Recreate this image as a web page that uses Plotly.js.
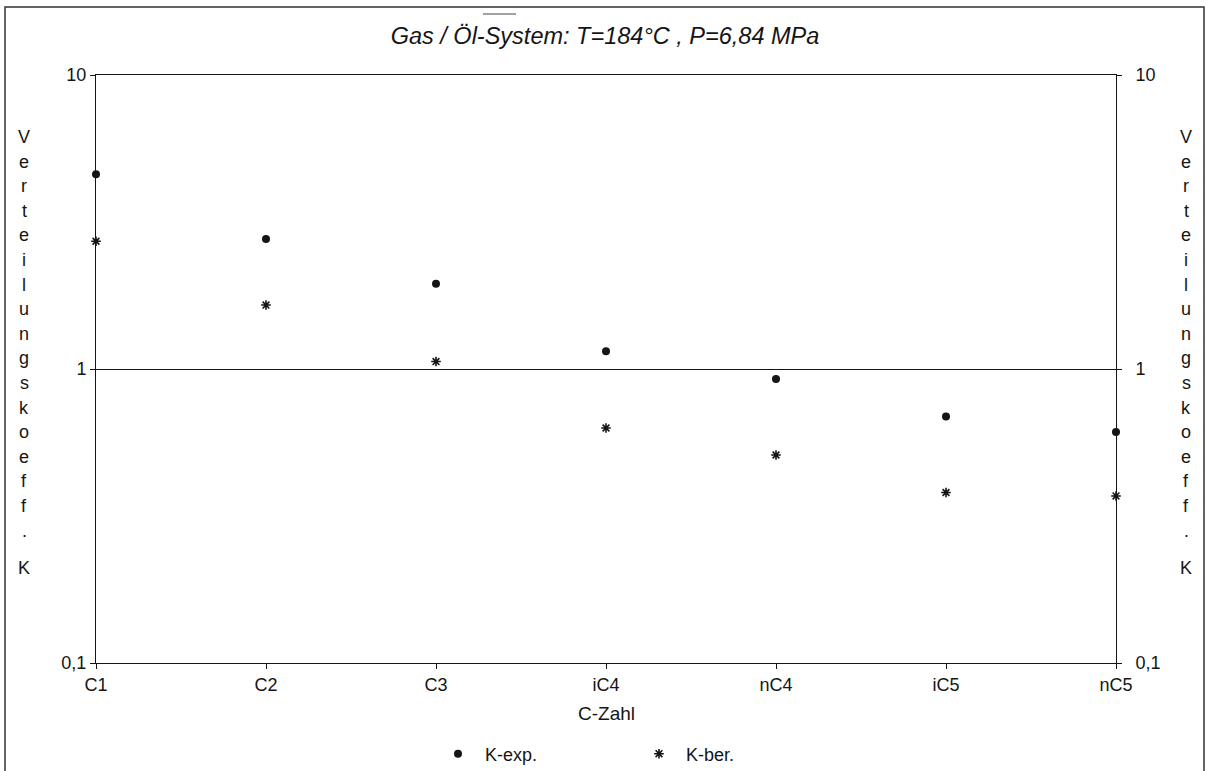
<!DOCTYPE html>
<html>
<head>
<meta charset="utf-8">
<script src="https://cdn.plot.ly/plotly-3.0.1.min.js"></script>
<style>html,body{margin:0;padding:0;background:#fff;}#chart{width:1206px;height:771px;}</style>
</head>
<body>
<div id="chart"></div>
<script>
var categories = ["C1", "C2", "C3", "iC4", "nC4", "iC5", "nC5"];
var kExp = [4.6, 2.77, 1.95, 1.15, 0.925, 0.69, 0.61];
var kBer = [2.72, 1.65, 1.06, 0.63, 0.51, 0.38, 0.37];
var yTickVals = [0.1, 1, 10];
var yTickText = ["0,1", "1", "10"];
var titleText = "Gas / Öl-System: T=184°C , P=6,84 MPa";
var xTitle = "C-Zahl";
var yTitle = "Verteilungskoeff. K";

var W = 1206, H = 771;
var L = 96, R = 90, T = 75, B = 108;
var pw = W - L - R, ph = H - T - B;
function px(x) { return (x - L) / pw; }
function py(y) { return (H - B - y) / ph; }

var font = "Liberation Sans, Arial, sans-serif";
var ink = "#151515";

var traces = [
  {x: categories, y: kExp, name: "K-exp.", type: "scatter", mode: "markers", cliponaxis: false,
   marker: {symbol: "circle", size: 8, color: ink}},
  {x: categories, y: kBer, name: "K-ber.", type: "scatter", mode: "markers", cliponaxis: false,
   marker: {symbol: "asterisk-open", size: 8, color: ink, line: {color: ink, width: 1.6}}},
  {x: categories, y: kExp, yaxis: "y2", type: "scatter", mode: "markers", showlegend: false,
   hoverinfo: "skip", marker: {opacity: 0}}
];

var annotations = [];
var chars = yTitle.split("");
chars.forEach(function (c, i) {
  if (c === " ") return;
  var yy = (c === "K") ? 568 : 137 + i * 24.6;
  [24, 1186].forEach(function (xx) {
    annotations.push({text: c, xref: "paper", yref: "paper", x: px(xx), y: py(yy),
      xanchor: "center", yanchor: "middle", showarrow: false,
      font: {family: font, size: 18, color: ink}});
  });
});
annotations.push({text: xTitle, xref: "paper", yref: "paper", x: px(606), y: py(713),
  xanchor: "center", yanchor: "middle", showarrow: false,
  font: {family: font, size: 19, color: ink}});

var layout = {
  width: W, height: H,
  margin: {l: L, r: R, t: T, b: B, autoexpand: false},
  paper_bgcolor: "#fff", plot_bgcolor: "#fff",
  separators: ",.",
  title: {text: titleText, x: px(605), xanchor: "center", xref: "paper", y: 1 - 36 / H, yanchor: "middle",
    automargin: false, font: {family: font, size: 23.5, color: ink, style: "italic"}},
  showlegend: true,
  legend: {orientation: "h", x: px(431), xanchor: "left", y: py(754), yanchor: "middle",
    font: {family: font, size: 18, color: ink}, itemwidth: 44, entrywidth: 142, entrywidthmode: "pixels",
    bgcolor: "rgba(0,0,0,0)"},
  xaxis: {type: "category", range: [0, 6], showline: true, linecolor: ink, linewidth: 1, mirror: true,
    automargin: false, ticks: "outside", ticklen: 5, tickcolor: ink, showgrid: false, zeroline: false,
    ticklabelstandoff: 0, tickfont: {family: font, size: 18, color: ink}},
  yaxis: {type: "log", range: [-1, 1], showline: true, linecolor: ink, linewidth: 1, automargin: false,
    ticks: "outside", ticklen: 5, tickcolor: ink, tickvals: yTickVals, ticktext: yTickText,
    showgrid: true, gridcolor: ink, gridwidth: 1, zeroline: false,
    tickfont: {family: font, size: 18, color: ink}},
  yaxis2: {type: "log", range: [-1, 1], overlaying: "y", side: "right", showline: true, linecolor: ink,
    linewidth: 1, automargin: false, ticks: "outside", ticklen: 5, tickcolor: ink, tickvals: yTickVals, ticktext: yTickText,
    showgrid: false, zeroline: false, ticklabelstandoff: 10, tickfont: {family: font, size: 18, color: ink}},
  shapes: [
    {type: "rect", xref: "paper", yref: "paper", x0: px(5), x1: px(1204), y0: py(7), y1: py(780),
     line: {color: "#333", width: 1.5}, fillcolor: "rgba(0,0,0,0)"},
    {type: "line", xref: "paper", yref: "paper", x0: px(483), x1: px(516), y0: py(14), y1: py(14),
     line: {color: "#444", width: 1}}
  ],
  annotations: annotations
};

Plotly.newPlot("chart", traces, layout, {displayModeBar: false, staticPlot: true});
</script>
</body>
</html>
